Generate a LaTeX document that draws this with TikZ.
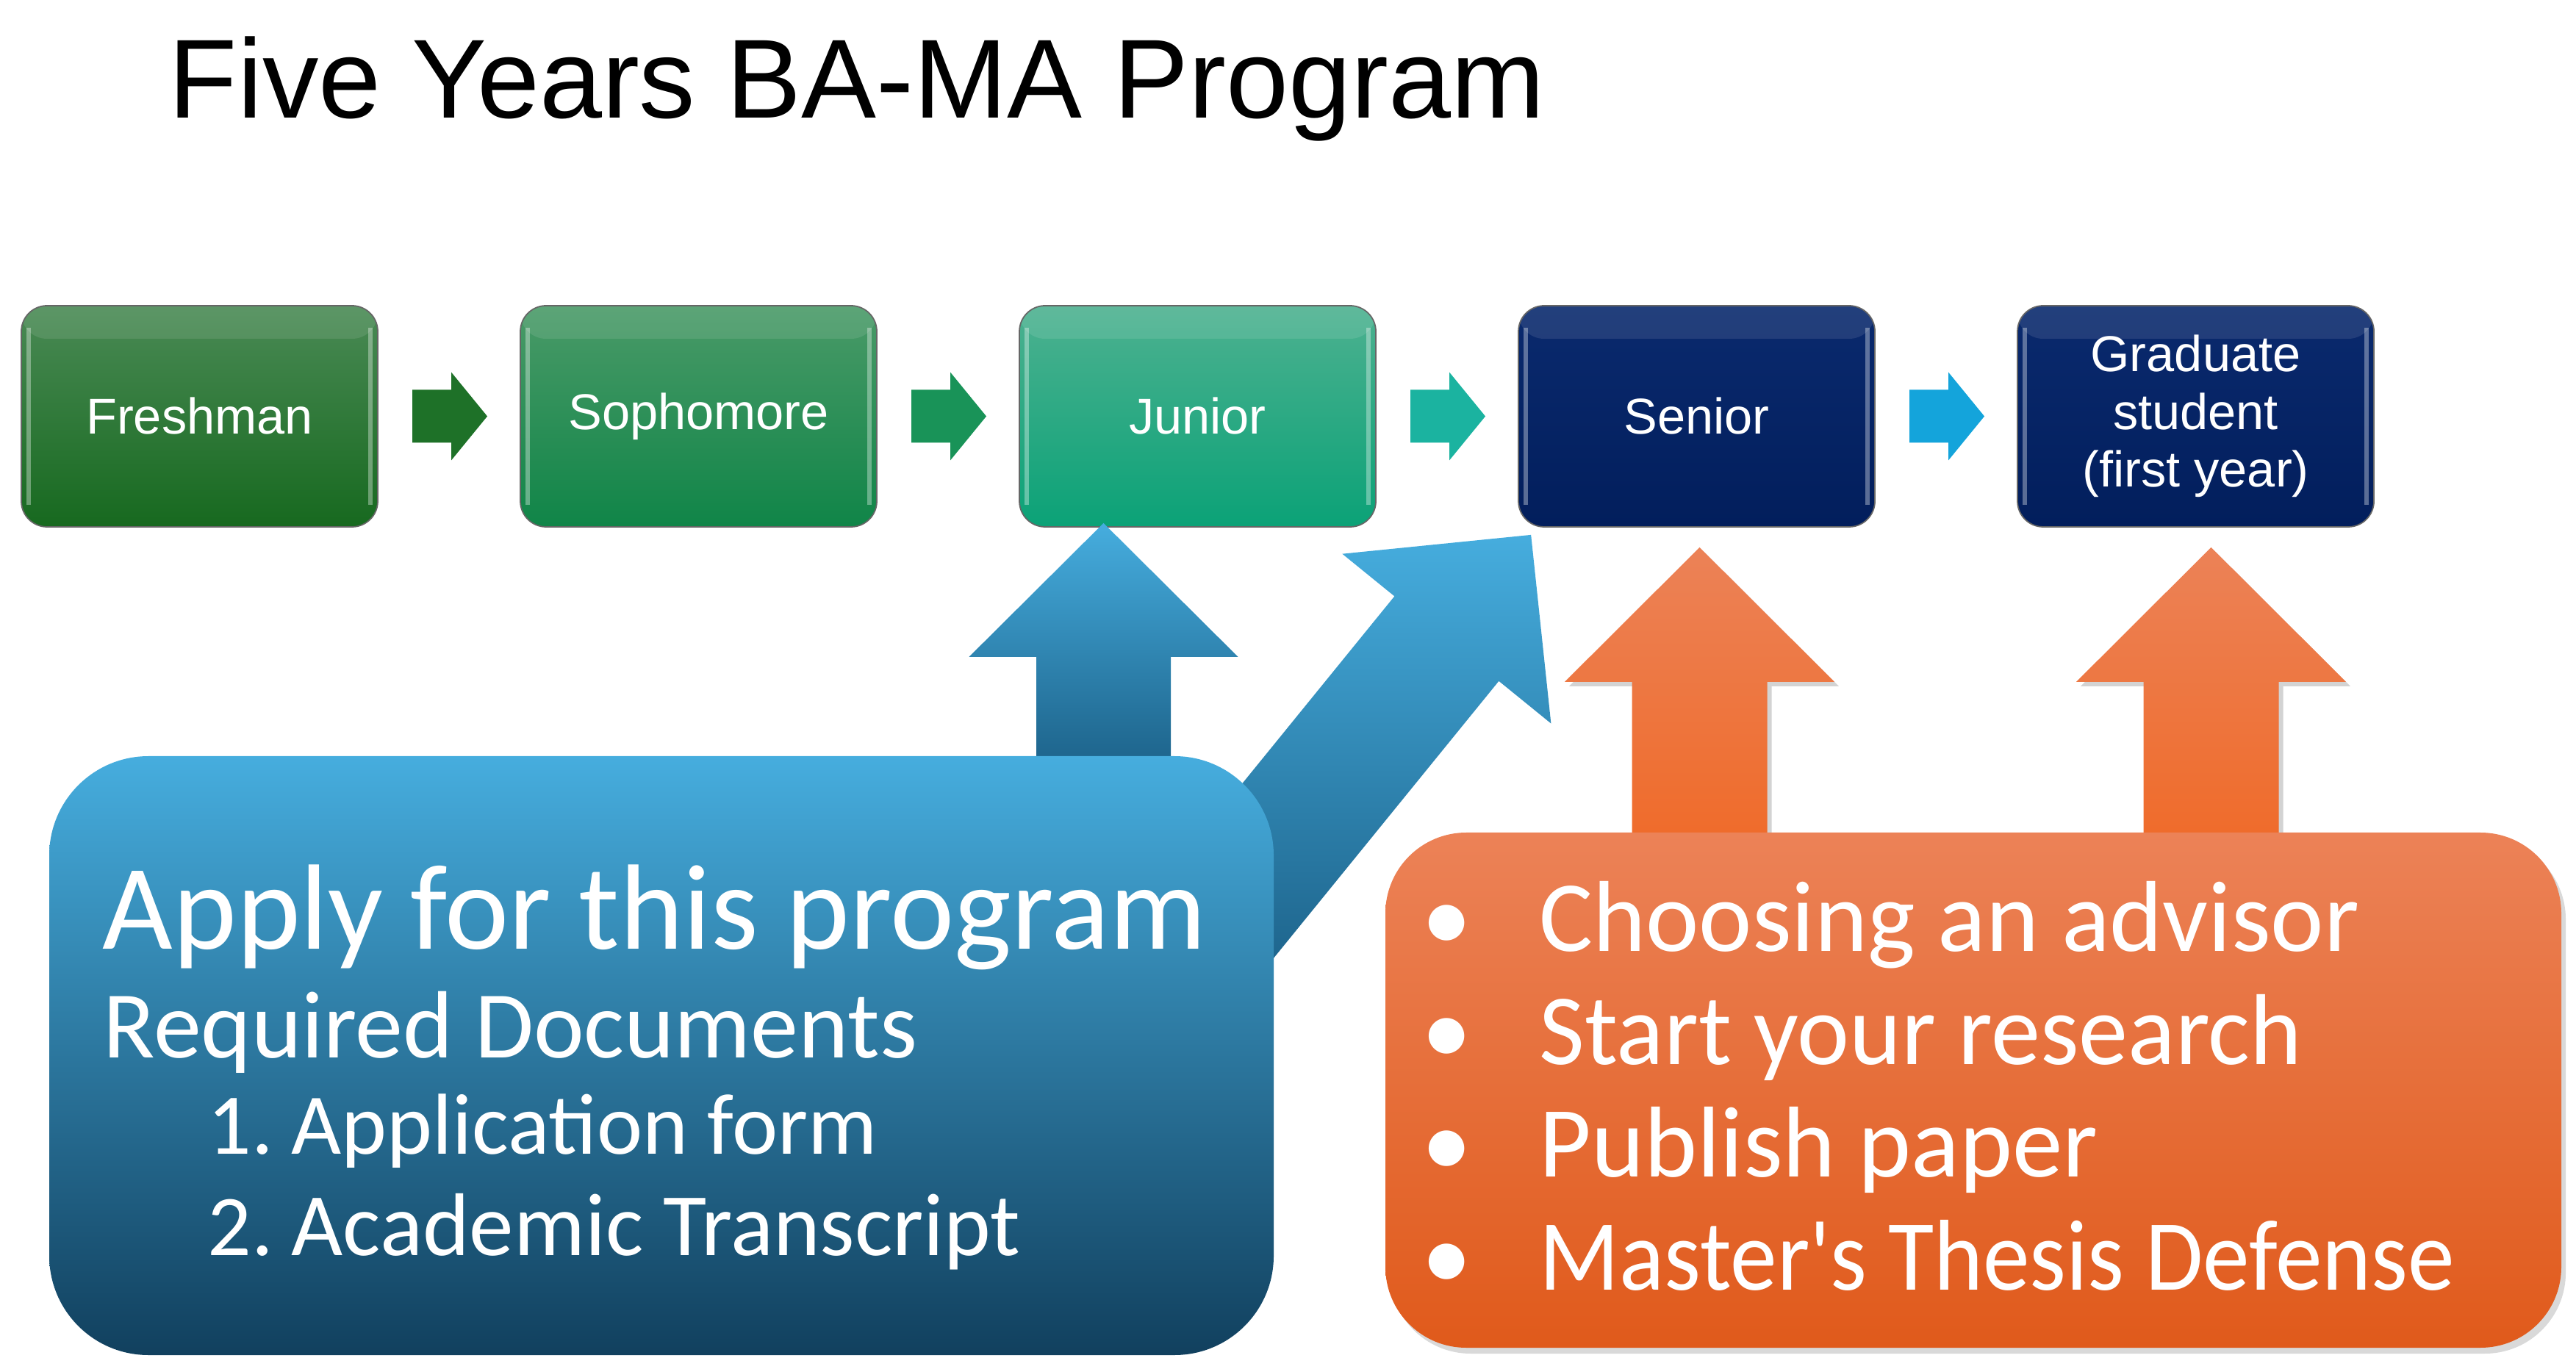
\documentclass[tikz,border=0pt]{standalone}
\usepackage{fontspec}
\usepackage{graphicx}
\setmainfont{Carlito}
\newfontfamily\boxfont{Liberation Sans}
\usetikzlibrary{positioning,calc,shadows}

\definecolor{freshtop}{HTML}{4A8A55}
\definecolor{freshbot}{HTML}{17691F}
\definecolor{sophtop}{HTML}{4A9A68}
\definecolor{sophbot}{HTML}{108548}
\definecolor{juntop}{HTML}{4DB190}
\definecolor{junbot}{HTML}{0BA277}
\definecolor{navytop}{HTML}{0A2A6E}
\definecolor{navybot}{HTML}{021E5C}
\definecolor{chevA}{HTML}{1E7128}
\definecolor{chevB}{HTML}{199358}
\definecolor{chevC}{HTML}{1BB3A0}
\definecolor{chevD}{HTML}{14A4DB}
\definecolor{skyblue}{HTML}{46ADDE}
\definecolor{deepblue}{HTML}{11405E}
\definecolor{arrowblue}{HTML}{1A5E85}
\definecolor{orangetop}{HTML}{EC8257}
\definecolor{orangebot}{HTML}{E05A1B}
\definecolor{orangearrow}{HTML}{EF6B2A}

\begin{document}
\begin{tikzpicture}[node distance=6.79cm,
  stage/.style={rounded corners=0.35cm,minimum width=4.85cm,minimum height=3.01cm,inner sep=0pt,
    draw=black!60,line width=0.5pt,text=white,align=center,font=\boxfont\fontsize{19.5}{22.3}\selectfont,
    path picture={
      \draw[white,opacity=0.35,line width=1.6pt]
        ($(path picture bounding box.north west)+(0.10,-0.30)$) -- ($(path picture bounding box.south west)+(0.10,0.30)$)
        ($(path picture bounding box.north east)+(-0.10,-0.30)$) -- ($(path picture bounding box.south east)+(-0.10,0.30)$);
      \fill[white,opacity=0.10] (path picture bounding box.north west) rectangle ($(path picture bounding box.north east)+(0,-0.45)$);
    }},
  chev/.style={draw=none,fill=#1,to path={($(\tikztostart.east)!.5!(\tikztotarget.west)$)
    ++(-0.50,0.36) -- ++(0.53,0) -- ++(0,0.24) -- ++(0.49,-0.60) -- ++(-0.49,-0.60) -- ++(0,0.24) -- ++(-0.53,0) -- cycle}},
  bluearrow/.style={top color=skyblue,bottom color=arrowblue,draw=none},
  orangearrowshape/.style={top color=orangetop,bottom color=orangearrow,draw=none,
    drop shadow={shadow xshift=0.06,shadow yshift=-0.06,opacity=0.35}},
  listtext/.style={anchor=base west,inner sep=0pt,text=white}]

  \useasboundingbox (0,0) rectangle (35.05,18.47);

  \node[anchor=base west,inner sep=0pt,font=\boxfont\fontsize{43.5}{50}\selectfont] (title) at (2.29,16.86) {Five Years BA-MA Program};

  % the five years
  \node[stage,top color=freshtop,bottom color=freshbot] (fresh) at (2.715,12.805) {Freshman};
  \node[stage,top color=sophtop,bottom color=sophbot] (soph) [right of=fresh] {Sophomore};
  \node[stage,top color=juntop,bottom color=junbot] (junior) [right of=soph] {Junior};
  \node[stage,top color=navytop,bottom color=navybot] (senior) [right of=junior] {Senior};
  \node[stage,top color=navytop,bottom color=navybot] (grad) [right of=senior] {Graduate\\student\\(first year)};

  \path (fresh) edge[chev=chevA] (soph)
        (soph) edge[chev=chevB] (junior)
        (junior) edge[chev=chevC] (senior)
        (senior) edge[chev=chevD] (grad);

  % big arrows
  \coordinate (tipJ) at ($(junior.south)+(-1.28,0.06)$);
  \shade[bluearrow] (tipJ) -- ++(-1.83,-1.82) -- ++(0.915,0) -- ++(0,-1.7) -- ++(1.83,0) -- ++(0,1.7) -- ++(0.915,0) -- cycle;
  \begin{scope}[shift={($(senior.south west)+(0.18,-0.10)$)},rotate=-39.1]
    \shade[bluearrow] (0,0) -- ++(-1.83,-1.82) -- ++(0.915,0) -- ++(0,-5.7) -- ++(1.83,0) -- ++(0,5.7) -- ++(0.915,0) -- cycle;
  \end{scope}
  \coordinate (tipS) at ($(senior.south)+(0.04,-0.27)$);
  \coordinate (tipG) at ($(grad.south)+(0.21,-0.27)$);
  \shade[orangearrowshape] (tipS) -- ++(-1.835,-1.83) -- ++(0.915,0) -- ++(0,-2.2) -- ++(1.84,0) -- ++(0,2.2) -- ++(0.915,0) -- cycle;
  \shade[orangearrowshape] (tipG) -- ++(-1.835,-1.83) -- ++(0.915,0) -- ++(0,-2.2) -- ++(1.84,0) -- ++(0,2.2) -- ++(0.915,0) -- cycle;

  % apply box
  \node[rounded corners=1.35cm,minimum width=16.66cm,minimum height=8.15cm,inner sep=0pt,
    top color=skyblue,bottom color=deepblue] (apply) at (9.0,4.105) {};
  \node[listtext,font=\fontsize{47}{50}\selectfont] (applyhead) at (1.39,5.56) {Apply for this program};
  \node[listtext,font=\fontsize{37}{40}\selectfont] (docs) at (1.40,4.08) {Required Documents};
  \node[listtext,font=\fontsize{33.5}{36}\selectfont] (num1) at (2.82,2.77) {1.};
  \node[listtext,font=\fontsize{33.5}{36}\selectfont] (doc1) at (3.96,2.77) {Application form};
  \node[listtext,font=\fontsize{33.5}{36}\selectfont] (num2) at (2.82,1.39) {2.};
  \node[listtext,font=\fontsize{34.5}{36}\selectfont] (doc2) at (3.96,1.39) {Academic Transcript};

  % research box
  \node[rounded corners=1.1cm,minimum width=16.0cm,minimum height=7.01cm,inner sep=0pt,
    top color=orangetop,bottom color=orangebot,
    drop shadow={shadow xshift=0.06,shadow yshift=-0.08,opacity=0.3}] (tasks) at (26.85,3.635) {};
  \foreach \y/\txt [count=\i] in {5.53/Choosing an advisor,3.99/\scalebox{0.98}[1]{Start your research},
      2.46/Publish paper,0.92/\scalebox{0.93}[1]{Master\textquotesingle s Thesis Defense}}{
    \node[anchor=base,inner sep=0pt,text=white,font=\fontsize{39}{42}\selectfont] (dot\i) at (19.69,\y) {\textbullet};
    \node[listtext,font=\fontsize{39}{42}\selectfont] (task\i) at (20.94,\y) {\txt};
  }
\end{tikzpicture}
\end{document}
